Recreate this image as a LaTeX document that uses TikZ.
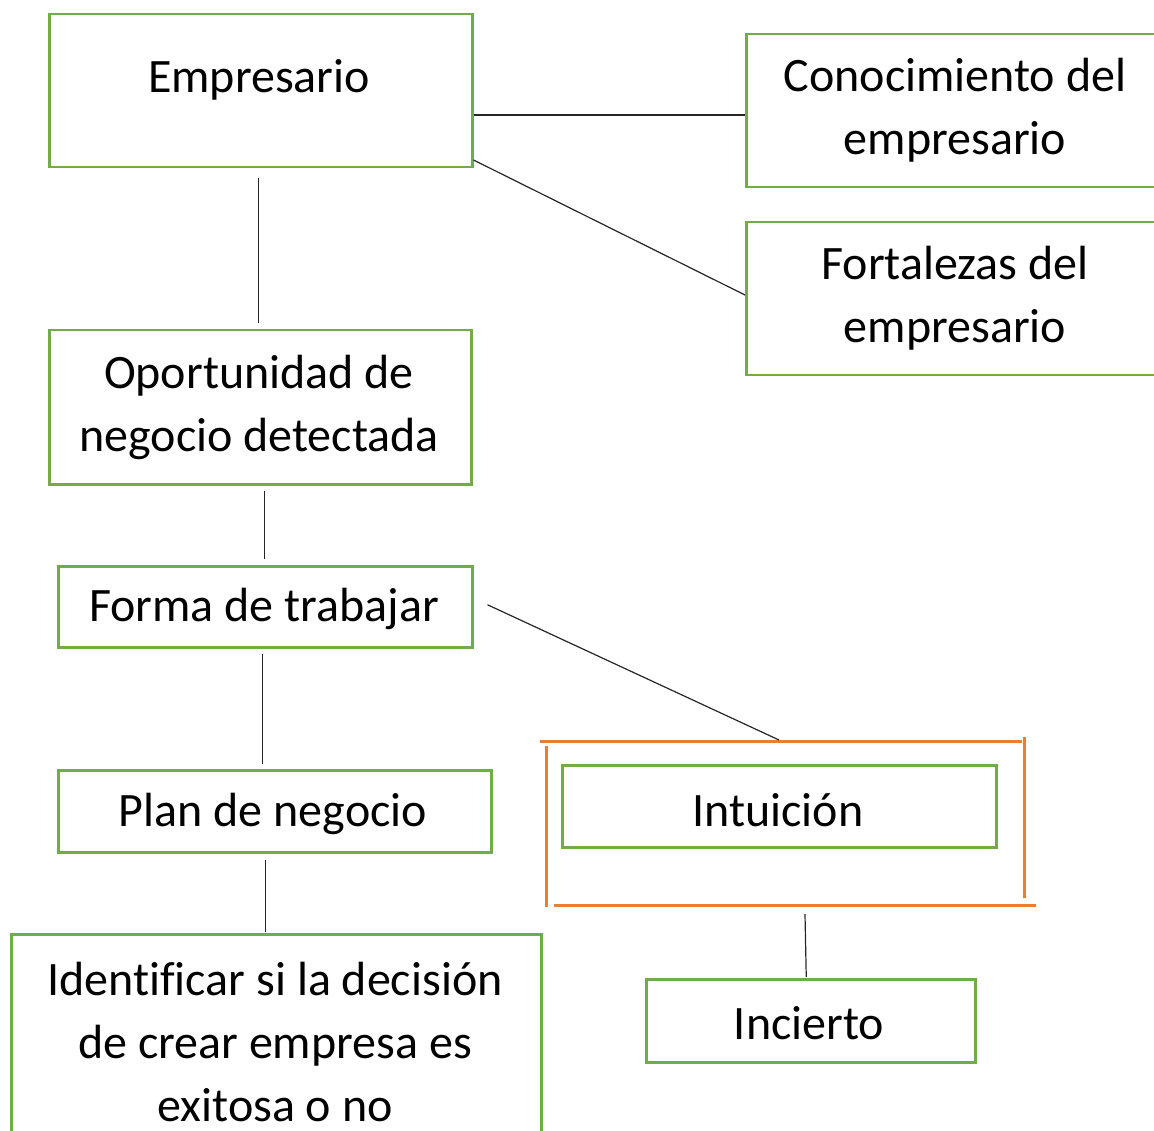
\documentclass[tikz,border=0pt]{standalone}
\usepackage{fontspec}
\setmainfont[Ligatures={NoCommon}]{Carlito}
\usetikzlibrary{calc}
\definecolor{gr}{HTML}{70AD47}
\definecolor{orng}{HTML}{ED7D31}
\begin{document}
\begin{tikzpicture}[x=1pt,y=-1pt,
  gbox/.style={draw=gr,line width=2.5pt,inner sep=0pt,anchor=north west},
  txt/.style={inner sep=0pt,align=center,font=\fontsize{48}{63}\selectfont},
  conn/.style={draw=black!85,line width=1.2pt},
  obar/.style={draw=orng,line width=3pt}]
\useasboundingbox (0,0) rectangle (1154,1131);
\clip (0,0) rectangle (1154,1131);
% boxes
\node[gbox,minimum width=423,minimum height=153] (emp) at (48,13) {};
\node[txt] (empT) at (259,80) {Empresario};
\node[gbox,minimum width=420,minimum height=153] (con) at (745,33) {};
\node[txt] (conT) at (955,110) {Conocimiento del\\empresario};
\node[gbox,minimum width=420,minimum height=153] (fort) at (745,221) {};
\node[txt] (fortT) at (955,298) {Fortalezas del\\empresario};
\node[gbox,minimum width=422,minimum height=154] (opo) at (48,329) {};
\node[txt] (opoT) at (259,407) {Oportunidad de\\negocio detectada};
\node[gbox,minimum width=414,minimum height=81] (for) at (57,565) {};
\node[txt] (forT) at (264,609) {Forma de trabajar};
\node[gbox,minimum width=433,minimum height=82] (plan) at (57,769) {};
\node[txt] (planT) at (273,814) {Plan de negocio};
\node[gbox,minimum width=530,minimum height=220] (ide) at (10,933) {};
\node[txt] (ideT) at (275,1042) {Identificar si la decisión\\de crear empresa es\\exitosa o no};
\node[gbox,minimum width=434,minimum height=82] (int) at (561,764) {};
\node[txt] (intT) at (778,810) {Intuición};
\node[gbox,minimum width=329,minimum height=83] (inc) at (645,978) {};
\node[txt] (incT) at (809,1023) {Incierto};
% orange frame
\coordinate (oTL) at (540,741);
\coordinate (oTR) at (1022,741);
\path[obar] (oTL) -- (oTR);
\path[obar] (1024,737) -- (1024,898);
\path[obar] (546,746) -- (546,907);
\path[obar] (554,905) -- (1036,905);
\coordinate (oTop) at (779,740);
\coordinate (oBot) at (805,914);
% connectors
\path[conn] (emp.east |- 0,115) -- (con.west |- 0,115);
\path[conn] (emp.east |- 0,160) -- (fort.west |- 0,295);
\path[conn] ($(emp.south)+(-2.5,10)$) -- ($(opo.north)+(-2,-6)$);
\path[conn] ($(opo.south)+(4,5)$) -- ($(for.north)+(-1,-6)$);
\path[conn] ($(for.south)+(-3,5)$) -- ($(plan.north)+(-12.5,-5)$);
\path[conn] ($(plan.south)+(-9.5,6)$) -- ($(ide.north)+(-11,-1)$);
\path[conn] ($(for.east)+(14,-2)$) -- (oTop);
\path[conn] (oBot) -- ($(inc.north)+(-4.5,-1)$);
\end{tikzpicture}
\end{document}
